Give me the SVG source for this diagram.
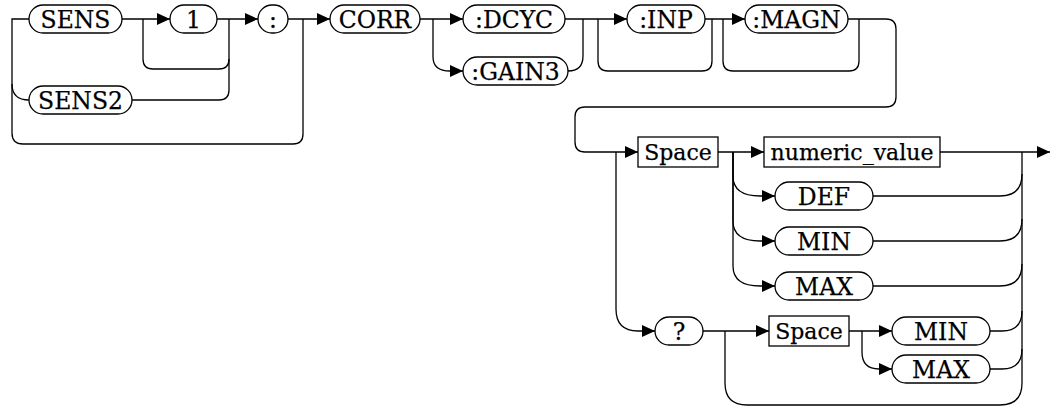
<svg xmlns="http://www.w3.org/2000/svg" width="1054" height="407" viewBox="0 0 1054 407">
<defs>
<marker id="arr" markerWidth="13" markerHeight="12" refX="13" refY="6" orient="auto" markerUnits="userSpaceOnUse"><path d="M0,0 L13,6 L0,12 z" fill="#000"/></marker>
<style>
.c{fill:none;stroke:#000;stroke-width:1.3}
.a{marker-end:url(#arr)}
.p{fill:#fff;stroke:#000;stroke-width:1.3}
.t{font-family:"DejaVu Serif",serif;font-size:23.5px;fill:#000;stroke:#000;stroke-width:0.25;text-anchor:middle}
.s{font-size:22px}
</style>
</defs>
<rect width="1054" height="407" fill="#fff"/>
<g id="connectors">
<path class="c" d="M29,19 H12 V133 Q12,144 23,144 H293 Q303,144 303,134 V19"/>
<path class="c" d="M12,84 Q12,100 29,100"/>
<path class="c a" d="M122,19 H170"/>
<path class="c" d="M143,19 V59 Q143,69 153,69 H219 Q229,69 229,59 V19"/>
<path class="c" d="M132,100 H219 Q229,100 229,90 V59"/>
<path class="c a" d="M217,19 H258"/>
<path class="c a" d="M288,19 H330"/>
<path class="c a" d="M420,19 H463"/>
<path class="c a" d="M433,19 V57 Q433,71 450,71 H463"/>
<path class="c" d="M568,71 Q583,71 583,56 V19"/>
<path class="c a" d="M565,19 H627"/>
<path class="c" d="M598,19 V61 Q598,71 608,71 H702 Q712,71 712,61 V19"/>
<path class="c a" d="M705,19 H745"/>
<path class="c" d="M723,19 V61 Q723,71 733,71 H849 Q859,71 859,61 V19"/>
<path class="c a" d="M848,19 H886 Q896,19 896,29 V97 Q896,107 886,107 H585 Q575,107 575,117 V142 Q575,152 585,152 H638"/>
<path class="c a" d="M616,152 V309 Q616,331 638,331 H655"/>
<path class="c a" d="M718,152 H764"/>
<path class="c a" d="M940,152 H1050"/>
<path class="c a" d="M733,152 V176 Q733,196 760,196 H775"/>
<path class="c a" d="M733,152 V221 Q733,241 760,241 H775"/>
<path class="c a" d="M733,152 V266 Q733,286 760,286 H775"/>
<path class="c" d="M873,196 H1000 Q1022,196 1022,174"/>
<path class="c" d="M873,241 H1000 Q1022,241 1022,219"/>
<path class="c" d="M873,286 H1000 Q1022,286 1022,264"/>
<path class="c" d="M990,331 H1002 Q1022,331 1022,311"/>
<path class="c" d="M990,369 H1002 Q1022,369 1022,349"/>
<path class="c" d="M725,331 V383 Q725,405 747,405 H1000 Q1022,405 1022,383 V152"/>
<path class="c a" d="M703,331 H769"/>
<path class="c a" d="M849,331 H892"/>
<path class="c a" d="M862,331 V352 Q862,369 879,369 H892"/>
</g>
<g id="n-sens"><rect class="p" x="29" y="5" width="93" height="28" rx="14"/><text class="t" x="75.5" y="27.5">SENS</text></g>
<g id="n-1"><rect class="p" x="170" y="5" width="47" height="28" rx="14"/><text class="t" x="193.5" y="27.5">1</text></g>
<g id="n-colon"><rect class="p" x="258" y="5" width="30" height="28" rx="14"/><text class="t" x="273" y="27.5">:</text></g>
<g id="n-sens2"><rect class="p" x="29" y="86" width="103" height="28" rx="14"/><text class="t" x="80.5" y="108.5">SENS2</text></g>
<g id="n-corr"><rect class="p" x="330" y="5" width="90" height="28" rx="14"/><text class="t" x="375" y="27.5">CORR</text></g>
<g id="n-dcyc"><rect class="p" x="463" y="5" width="102" height="28" rx="14"/><text class="t" x="514" y="27.5">:DCYC</text></g>
<g id="n-gain3"><rect class="p" x="463" y="57" width="105" height="28" rx="14"/><text class="t" x="515.5" y="79.5">:GAIN3</text></g>
<g id="n-inp"><rect class="p" x="627" y="5" width="78" height="28" rx="14"/><text class="t" x="666" y="27.5">:INP</text></g>
<g id="n-magn"><rect class="p" x="745" y="5" width="103" height="28" rx="14"/><text class="t" x="796.5" y="27.5">:MAGN</text></g>
<g id="n-space"><rect class="p" x="638" y="137" width="80" height="30"/><text class="t s" x="678" y="160">Space</text></g>
<g id="n-numeric"><rect class="p" x="764" y="137" width="176" height="30"/><text class="t s" x="852" y="160">numeric_value</text></g>
<g id="n-def"><rect class="p" x="775" y="182" width="98" height="28" rx="14"/><text class="t" x="824" y="204.5">DEF</text></g>
<g id="n-min"><rect class="p" x="775" y="227" width="98" height="28" rx="14"/><text class="t" x="824" y="249.5">MIN</text></g>
<g id="n-max"><rect class="p" x="775" y="272" width="98" height="28" rx="14"/><text class="t" x="824" y="294.5">MAX</text></g>
<g id="n-query"><rect class="p" x="655" y="317" width="48" height="28" rx="14"/><text class="t" x="679" y="339.5">?</text></g>
<g id="n-space2"><rect class="p" x="769" y="316" width="80" height="30"/><text class="t s" x="809" y="339">Space</text></g>
<g id="n-min2"><rect class="p" x="892" y="317" width="98" height="28" rx="14"/><text class="t" x="941" y="339.5">MIN</text></g>
<g id="n-max2"><rect class="p" x="892" y="355" width="98" height="28" rx="14"/><text class="t" x="941" y="377.5">MAX</text></g>
</svg>
